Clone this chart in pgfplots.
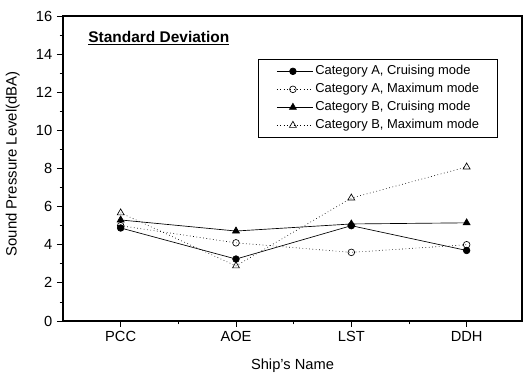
\documentclass[border=0pt]{standalone}
\usepackage{pgfplots}
\pgfplotsset{compat=1.18}
\usepackage{fontspec}
\setmainfont{Liberation Sans}
\begin{document}
\begin{tikzpicture}
\begin{axis}[
  scale only axis,
  width=344.25pt, height=228.75pt,
  at={(0,0)}, anchor=south west,
  xmin=-0.5, xmax=3.48, ymin=0, ymax=16,
  xtick={0,1,2,3}, xticklabels={PCC,AOE,LST,DDH},
  minor xtick={0.5,1.5,2.5},
  ytick={0,2,...,16}, minor ytick={1,3,...,15},
  tick align=outside, xtick pos=left, ytick pos=left,
  major tick length=4.5pt, minor tick length=2.5pt,
  tick style={black, line width=0.6pt},
  axis line style={line width=0.8pt},
  /pgf/number format/assume math mode=true,
  tick label style={font=\fontsize{11}{13}\selectfont},
  xlabel={Ship's Name}, ylabel={Sound Pressure Level(dBA)},
  xlabel style={font=\fontsize{11}{13}\selectfont, at={(axis description cs:0.5,0)}, anchor=north, yshift=-25pt},
  ylabel style={font=\fontsize{11.2}{13}\selectfont, at={(axis description cs:-0.135,0.515)}, anchor=north},
  legend style={at={(0.948,0.859)}, anchor=north east, draw=black, line width=0.5pt,
    font=\fontsize{9.7}{11}\selectfont, row sep=4.5pt, inner xsep=14pt, inner ysep=4.5pt,
    nodes={inner sep=0pt, text height=7pt, text depth=2pt},
    /tikz/every odd column/.append style={column sep=1.5pt}},
  legend cell align=left,
  legend image code/.code={\draw[#1] (0pt,0pt) -- (27pt,0pt); \draw[#1, only marks] plot coordinates {(12pt,0pt)};},
  clip=false,
]
\addplot[black, line width=0.5pt, mark=*, mark size=2.5pt, mark options={solid, fill=black}]
  coordinates {(0,4.88) (1,3.25) (2,5.0) (3,3.7)};
\addlegendentry{Category A, Cruising mode}
\addplot[black, line width=0.5pt, dotted, mark=o, mark size=2.5pt, mark options={solid, fill=white}]
  coordinates {(0,5.0) (1,4.1) (2,3.6) (3,4.0)};
\addlegendentry{Category A, Maximum mode}
\addplot[black, line width=0.5pt, mark=triangle*, mark size=3pt, mark options={solid, fill=black}]
  coordinates {(0,5.3) (1,4.72) (2,5.09) (3,5.15)};
\addlegendentry{Category B, Cruising mode}
\addplot[black, line width=0.5pt, dotted, mark=triangle, mark size=3pt, mark options={solid, fill=white}]
  coordinates {(0,5.67) (1,2.89) (2,6.45) (3,8.08)};
\addlegendentry{Category B, Maximum mode}
\node[anchor=west, font=\bfseries\fontsize{11.6}{13}\selectfont] at (rel axis cs:0.045,0.928) {\underline{Standard Deviation}};
\end{axis}
\path (-47.25pt,-39.75pt) rectangle (346.5pt,240.75pt);
\end{tikzpicture}
\end{document}
